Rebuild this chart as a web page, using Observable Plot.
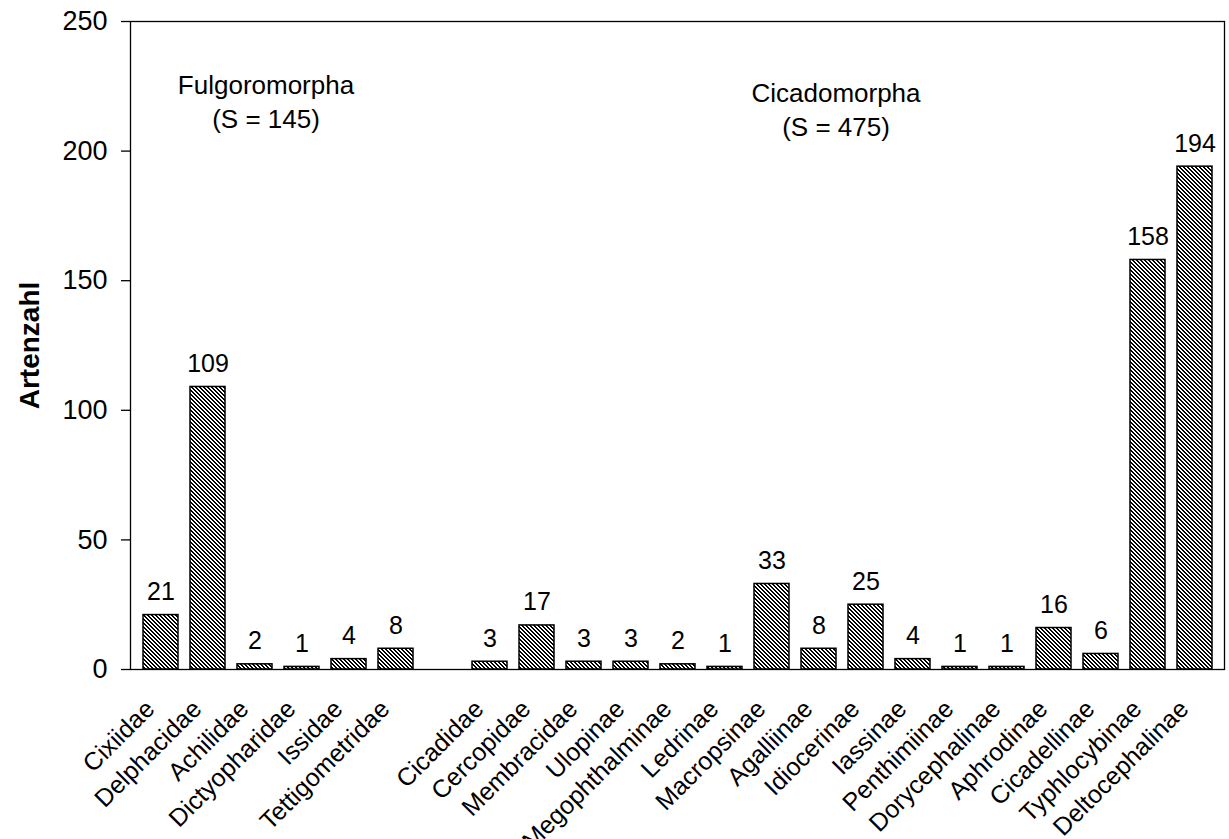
<!DOCTYPE html>
<html>
<head>
<meta charset="utf-8">
<script src="https://cdn.jsdelivr.net/npm/d3@7"></script>
<script src="https://cdn.jsdelivr.net/npm/@observablehq/plot@0.6"></script>
<style>
  html, body { margin: 0; padding: 0; background: white; overflow: hidden; }
</style>
</head>
<body>
<div id="chart"></div>
<script>
const fulgoroCategories = ["Cixiidae","Delphacidae","Achilidae","Dictyopharidae","Issidae","Tettigometridae"];
const fulgoroValues = [21,109,2,1,4,8];
const cicadoCategories = ["Cicadidae","Cercopidae","Membracidae","Ulopinae","Megophthalminae","Ledrinae","Macropsinae","Agalliinae","Idiocerinae","Iassinae","Penthimiinae","Dorycephalinae","Aphrodinae","Cicadellinae","Typhlocybinae","Deltocephalinae"];
const cicadoValues = [3,17,3,3,2,1,33,8,25,4,1,1,16,6,158,194];
const gapCategory = "__gap__";
const yTicks = [0,50,100,150,200,250];
const yLabel = "Artenzahl";
const fulgoroLabel = {text: "Fulgoromorpha\n(S = 145)", x: "Achilidae", y: 209};
const cicadoLabel = {text: "Cicadomorpha\n(S = 475)", x: "Agalliinae", y: 206};

const rows = [
  ...fulgoroCategories.map((c, i) => ({category: c, value: fulgoroValues[i]})),
  ...cicadoCategories.map((c, i) => ({category: c, value: cicadoValues[i]}))
];
const domain = [...fulgoroCategories, gapCategory, ...cicadoCategories];

const font = "Arial, 'Liberation Sans', sans-serif";

const chart = Plot.plot({
  width: 1229,
  height: 839,
  marginLeft: 130,
  marginRight: 5,
  marginTop: 21,
  marginBottom: 170,
  style: {fontFamily: font, fontSize: "25px", background: "white", color: "black"},
  x: {domain, paddingInner: 0.26, paddingOuter: 0.13, axis: null},
  y: {domain: [0, 250], axis: null},
  marks: [
    Plot.barY(rows, {x: "category", y: "value", fill: "url(#hatch)", stroke: "black", strokeWidth: 1.5}),
    Plot.frame({stroke: "black", strokeWidth: 1.3}),
    Plot.axisY({ticks: yTicks, tickSize: 9, tickPadding: 14, fontSize: 27, label: null, strokeWidth: 1.3}),
    Plot.text(rows, {x: "category", y: "value", text: d => String(d.value), dy: -15, lineAnchor: "bottom", fontSize: 25, fill: "black"}),
    Plot.text(rows, {x: "category", text: "category", frameAnchor: "bottom", rotate: -45, textAnchor: "end", lineAnchor: "bottom", dx: -5, dy: 41, fontSize: 25, fill: "black"}),
    Plot.text([fulgoroLabel], {x: "x", y: "y", text: "text", dx: 11, lineAnchor: "bottom", lineHeight: 1.31, fontSize: 26, fill: "black"}),
    Plot.text([cicadoLabel], {x: "x", y: "y", text: "text", dx: 17, lineAnchor: "bottom", lineHeight: 1.31, fontSize: 26, fill: "black"}),
    Plot.text([yLabel], {text: d => d, frameAnchor: "left", rotate: -90, dx: -92, textAnchor: "middle", lineAnchor: "bottom", fontSize: 28, fontWeight: "bold", fill: "black"})
  ]
});

d3.select(chart).insert("defs", ":first-child").html(`
  <pattern id="hatch" patternUnits="userSpaceOnUse" width="4" height="4">
    <rect width="4" height="4" fill="white"/>
    <g fill="black" shape-rendering="crispEdges">
      <rect x="0" y="0" width="2" height="1"/>
      <rect x="1" y="1" width="2" height="1"/>
      <rect x="2" y="2" width="2" height="1"/>
      <rect x="3" y="3" width="1" height="1"/>
      <rect x="0" y="3" width="1" height="1"/>
    </g>
  </pattern>`);

document.getElementById("chart").appendChild(chart);
</script>
</body>
</html>
